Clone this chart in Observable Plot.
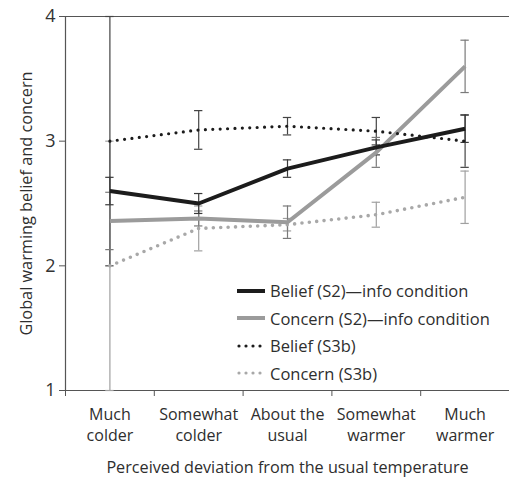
<!DOCTYPE html>
<html>
<head>
<meta charset="utf-8">
<script src="https://cdn.jsdelivr.net/npm/d3@7"></script>
<script src="https://cdn.jsdelivr.net/npm/@observablehq/plot@0.6"></script>
<style>
  html, body { margin: 0; padding: 0; background: #fff; overflow: hidden; }
  #wrap { position: relative; width: 509px; height: 479px; font-family: "Open Sans", sans-serif; color: #2e2e2e; }
  #legend { position: absolute; left: 237px; top: 277px; font-size: 16.5px; }
  #legend .row { height: 27.5px; display: flex; align-items: center; white-space: nowrap; }
  #legend svg { margin-right: 5px; }
</style>
</head>
<body>
<div id="wrap"><div id="legend"></div></div>
<script>
// ---- data ----
const categories = ["Much\ncolder", "Somewhat\ncolder", "About the\nusual", "Somewhat\nwarmer", "Much\nwarmer"];
const yTicks = [1, 2, 3, 4];
const seriesNames = ["Belief (S2)\u2014info condition", "Concern (S2)\u2014info condition", "Belief (S3b)", "Concern (S3b)"];
const beliefS2     = [2.60, 2.50, 2.78, 2.95, 3.10];
const beliefS2Err  = [0.11, 0.08, 0.07, 0.06, 0.11];
const concernS2    = [2.36, 2.38, 2.35, 2.91, 3.60];
const concernS2Err = [0.23, 0.06, 0.13, 0.12, 0.21];
const beliefS3b    = [3.00, 3.09, 3.12, 3.08, 3.00];
const beliefS3bErr = [1.00, 0.155, 0.07, 0.11, 0.21];
const concernS3b   = [2.00, 2.30, 2.33, 2.41, 2.55];
const concernS3bErr= [1.00, 0.18, 0.05, 0.10, 0.21];

// ---- styles ----
const styles = [
  {line: "#1c1c1c", err: "#3a3a3a", width: 4, dash: null},
  {line: "#9b9b9b", err: "#7a7a7a", width: 4, dash: null},
  {line: "#1c1c1c", err: "#444", width: 3.2, dash: "0 7.4"},
  {line: "#a8a8a8", err: "#a0a0a0", width: 3.6, dash: "0 7.4"}
];
const values = [beliefS2, concernS2, beliefS3b, concernS3b];
const errs = [beliefS2Err, concernS2Err, beliefS3bErr, concernS3bErr];

const rows = [];
values.forEach((vals, s) => vals.forEach((v, i) => rows.push({s, i, v, e: errs[s][i]})));
const caps = rows.flatMap(d => [{...d, c: d.v - d.e}, {...d, c: d.v + d.e}]);
const cx = d => d.i + 0.5;
const capW = 0.047;

const marks = [
  Plot.ruleY([1, 4], {stroke: "#555", strokeWidth: 1.2}),
  Plot.ruleX([0], {stroke: "#555", strokeWidth: 1.2}),
  Plot.axisY({ticks: yTicks, tickSize: 6, tickPadding: 4, fontSize: 18, tickFormat: d => String(d), label: null, stroke: "#555", fill: "#333"}),
  Plot.axisX({ticks: [0, 1, 2, 3, 4], tickSize: 6, tickFormat: () => "", label: null, stroke: "#555"}),
  Plot.axisX({ticks: categories.map((c, i) => i + 0.5), tickSize: 0, tickPadding: 14, fontSize: 16, lineHeight: 1.33,
    tickFormat: d => categories[Math.floor(d)], label: null, fill: "#2e2e2e"}),
  Plot.text(["Perceived deviation from the usual temperature"], {frameAnchor: "bottom", dy: 82, fontSize: 16.2, fill: "#2e2e2e"}),
  Plot.text(["Global warming belief and concern"], {frameAnchor: "left", textAnchor: "middle", dx: -39, rotate: -90, fontSize: 16.3, fill: "#2e2e2e"})
];
// error bars (behind lines)
[3, 2, 1, 0].forEach(s => {
  const r = rows.filter(d => d.s === s), c = caps.filter(d => d.s === s);
  marks.push(Plot.ruleX(r, {x: cx, y1: d => d.v - d.e, y2: d => d.v + d.e, stroke: styles[s].err, strokeWidth: 1.2}));
  marks.push(Plot.ruleY(c, {y: "c", x1: d => cx(d) - capW, x2: d => cx(d) + capW, stroke: styles[s].err, strokeWidth: 1.2}));
});
// lines
[3, 1, 2, 0].forEach(s => {
  const st = styles[s];
  marks.push(Plot.line(rows.filter(d => d.s === s), {x: cx, y: "v", stroke: st.line, strokeWidth: st.width,
    strokeDasharray: st.dash, strokeLinecap: st.dash ? "round" : "butt", strokeLinejoin: "round"}));
});

const chart = Plot.plot({
  width: 509, height: 479,
  marginLeft: 65, marginRight: 0, marginTop: 16, marginBottom: 89,
  x: {type: "linear", domain: [0, 5], axis: null},
  y: {domain: [1, 4], axis: null},
  style: {fontFamily: "Open Sans, sans-serif", color: "#2e2e2e", background: "#fff", overflow: "visible"},
  marks
});
const wrap = document.getElementById("wrap");
wrap.insertBefore(chart, wrap.firstChild);

// legend
const legend = d3.select("#legend");
seriesNames.forEach((name, s) => {
  const st = styles[s];
  const row = legend.append("div").attr("class", "row");
  const svg = row.append("svg").attr("width", 28).attr("height", 10);
  svg.append("line").attr("x1", st.dash ? 2 : 0).attr("x2", 28).attr("y1", 5).attr("y2", 5)
    .attr("stroke", st.line).attr("stroke-width", st.dash ? 3.2 : 4)
    .attr("stroke-dasharray", st.dash ? "0 7" : null).attr("stroke-linecap", st.dash ? "round" : "butt");
  row.append("span").text(name);
});
</script>
</body>
</html>
